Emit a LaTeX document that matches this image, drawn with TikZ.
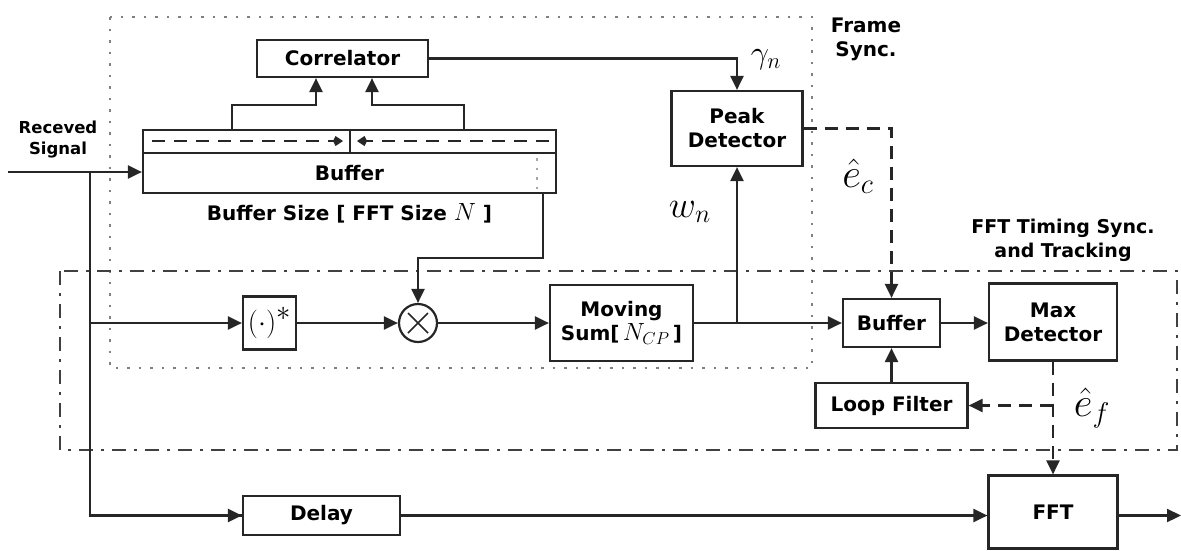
\documentclass[tikz,border=0pt]{standalone}
\usepackage{fontspec}
\setsansfont{DejaVu Sans}
\renewcommand{\familydefault}{\sfdefault}
\usetikzlibrary{arrows.meta,calc}
\tikzset{
  blk/.style={draw=black!85,line width=2.2pt,rectangle,inner sep=0pt,align=center,
    font=\fontsize{20}{24}\selectfont\bfseries},
  wire/.style={draw=black!85,line width=2.2pt},
  arr/.style={wire,-{Triangle[length=14pt,width=13pt]}},
  darr/.style={arr,dash pattern=on 13pt off 8pt},
  lbl/.style={align=center,font=\fontsize{20}{24}\selectfont\bfseries},
  mlbl/.style={font=\fontsize{24}{26}\selectfont},
}
\begin{document}
\begin{tikzpicture}[x=1pt,y=-1pt]
\useasboundingbox (0,0) rectangle (1181,550);
% frames
\draw[black!50,line width=2.6pt,dash pattern=on 2.5pt off 9pt] (110,17) rectangle (812,368);
\draw[black!75,line width=2.4pt,dash pattern=on 14pt off 8pt on 3pt off 8pt] (60,271) rectangle (1177,450);
\node[lbl] (fs) at (866,39) {Frame\\Sync.};
\node[lbl,font=\fontsize{19}{24}\selectfont\bfseries] (ft) at (1063,240) {FFT Timing Sync.\\and Tracking};
% nodes
\node[blk,minimum width=171pt,minimum height=37pt] (corr) at (342.5,58.5) {Correlator};
\node[blk,minimum width=413pt,minimum height=63pt] (buf) at (349.5,161.5) {};
\node[lbl] (buft) at (349.5,173) {Buffer};
\node[lbl] (bsz) at (349.5,213) {Buffer Size [ FFT Size {\fontsize{24}{24}\selectfont$N$} ]};
\node[lbl,font=\fontsize{16.5}{21}\selectfont\bfseries] (recv) at (58,140) {Receved\\Signal};
\node[blk,minimum width=53pt,minimum height=53pt,font=\fontsize{24}{26}\selectfont] (conj) at (269.5,323) {\scalebox{1.15}{$(\cdot)^{\textstyle *}$}};
\node[draw=black!85,line width=2.2pt,circle,minimum size=38pt,inner sep=0pt] (mult) at (418,323) {};
\node[blk,minimum width=143pt,minimum height=76pt] (msum) at (621.5,323) {Moving\\Sum[\,{\fontsize{24}{24}\selectfont$N_{CP}$}\,]};
\node[blk,minimum width=131pt,minimum height=75pt] (peak) at (737,128.5) {Peak\\Detector};
\node[blk,minimum width=97pt,minimum height=48pt] (buf2) at (891.5,323) {Buffer};
\node[blk,minimum width=128pt,minimum height=77pt] (maxd) at (1053,322) {Max\\Detector};
\node[blk,minimum width=152pt,minimum height=45pt] (loop) at (891.5,405.5) {Loop Filter};
\node[blk,minimum width=129pt,minimum height=73pt] (fft) at (1053,512) {FFT};
\node[blk,minimum width=157pt,minimum height=39pt] (delay) at (321.5,515.5) {Delay};
% multiplier cross
\draw[black!85,line width=1.6pt] ($(mult.center)+(-10,-10)$) -- ($(mult.center)+(10,10)$)
  ($(mult.center)+(-10,10)$) -- ($(mult.center)+(10,-10)$);
% buffer strip
\draw[wire] (buf.west |- 0,153) -- (buf.east |- 0,153);
\draw[wire] (350,130) -- (350,153);
\coordinate (dl1) at (152,141); \coordinate (dl2) at (343,141);
\coordinate (dr1) at (549,141); \coordinate (dr2) at (357,141);
\draw[wire,dash pattern=on 13pt off 9pt,-{Kite[length=10pt,width=10pt]}] (dl1) -- (dl2);
\draw[wire,dash pattern=on 13pt off 9pt,-{Kite[length=10pt,width=10pt]}] (dr1) -- (dr2);
\draw[black!35,line width=2pt,dash pattern=on 2.5pt off 7pt] (537,158) -- (537,190);
% buffer to correlator
\coordinate (c1) at (232,130); \coordinate (c2) at (232,105); \coordinate (c3) at (316,105);
\coordinate (c4) at (464,130); \coordinate (c5) at (464,105); \coordinate (c6) at (372,105);
\draw[arr] (c1) -- (c2) -- (c3) -- (c3 |- corr.south);
\draw[arr] (c4) -- (c5) -- (c6) -- (c6 |- corr.south);
% received signal
\coordinate (in) at (8,172);
\coordinate (j1) at (90,172);
\draw[arr] (in) -- (in -| buf.west);
\draw[wire] (j1) |- (delay.west);
\draw[arr] (j1 |- delay.west) -- (delay.west);
\draw[arr] (j1 |- conj.west) -- (conj.west);
\draw[arr] (conj.east) -- (mult.west);
% buffer to multiplier
\coordinate (b1) at (543,193); \coordinate (b2) at (543,258);
\draw[arr] (b1) -- (b2) -| (mult.north);
\draw[arr] (mult.east) -- (msum.west);
% moving sum to buffer2 and peak
\draw[arr] (msum.east) -- (buf2.west);
\coordinate (j2) at (737,323);
\draw[arr] (j2) -- (peak.south);
\draw[arr] (corr.east) -| (peak.north);
\draw[darr] (peak.east) -| (buf2.north);
\draw[arr] (buf2.east) -- (buf2.east -| maxd.west);
\draw[arr] (loop.north) -- (buf2.south);
\draw[darr] (maxd.south) -- (fft.north);
\coordinate (j3) at (1053,405.5);
\draw[darr] (j3) -- (loop.east);
\draw[arr] (delay.east) -- (delay.east -| fft.west);
\coordinate (out) at (1181,515.5);
\draw[arr] (fft.east |- out) -- (out);
% math labels
\node[mlbl] (gam) at (766,60) {\scalebox{1.3}{$\gamma_n$}};
\node[mlbl] (wn) at (690,212) {\scalebox{1.5}{$w_n$}};
\node[mlbl] (ec) at (858,176) {\scalebox{1.65}{$\hat{e}_c$}};
\node[mlbl] (ef) at (1092,408) {\scalebox{1.65}{$\hat{e}_f$}};
\end{tikzpicture}
\end{document}
